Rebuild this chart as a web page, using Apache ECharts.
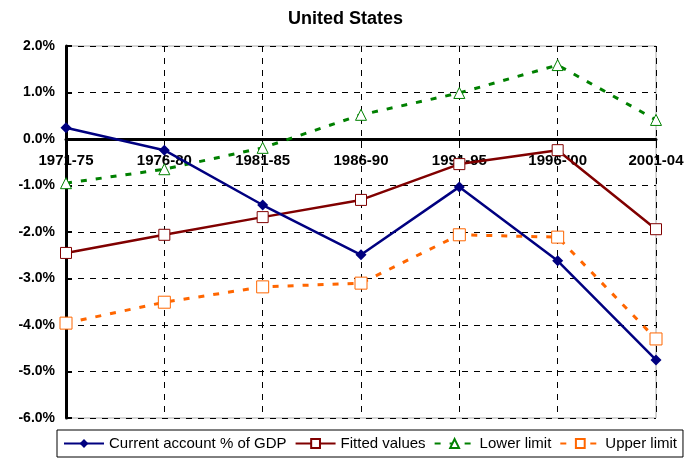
<!DOCTYPE html>
<html>
<head>
<meta charset="utf-8">
<script src="https://cdn.jsdelivr.net/npm/echarts@6/dist/echarts.min.js"></script>
<style>
  html, body { margin: 0; padding: 0; background: #ffffff; }
  #chart { width: 691px; height: 461px; }
</style>
</head>
<body>
<div id="chart"></div>
<script>
// periods on the x axis
var periods = ['1971-75', '1976-80', '1981-85', '1986-90', '1991-95', '1996-\'00', '2001-04'];
// values in % of GDP
var currentAccount = [0.24, -0.24, -1.42, -2.49, -1.03, -2.62, -4.75];
var fittedValues = [-2.45, -2.06, -1.68, -1.31, -0.54, -0.24, -1.94];
var lowerLimit = [-0.95, -0.65, -0.19, 0.52, 0.99, 1.59, 0.41];
var upperLimit = [-3.96, -3.51, -3.18, -3.10, -2.06, -2.11, -4.30];

var font = 'Liberation Sans, Arial, sans-serif';
var chart = echarts.init(document.getElementById('chart'));

var option = {
  animation: false,
  backgroundColor: '#ffffff',
  textStyle: { fontFamily: font },
  title: {
    text: 'United States',
    left: 'center',
    top: 5,
    textStyle: { fontSize: 18, fontWeight: 'bold', color: '#000', fontFamily: font }
  },
  legend: {
    bottom: 4,
    left: 57,
    itemGap: 8,
    itemWidth: 40,
    itemHeight: 11,
    borderColor: '#000',
    borderWidth: 1,
    padding: [6, 6],
    textStyle: { fontSize: 15, color: '#000', fontFamily: font },
    data: ['Current account % of GDP', 'Fitted values', 'Lower limit', 'Upper limit']
  },
  grid: {
    left: 66,
    right: 35,
    top: 46,
    bottom: 43,
    outerBoundsMode: 'none',
    show: true,
    borderColor: '#aaaaaa',
    borderWidth: 1
  },
  xAxis: {
    type: 'category',
    data: periods,
    boundaryGap: false,
    // axis drawn at 0% (bottom edge is -6%, 279 px below)
    offset: -279,
    axisLine: { onZero: false, lineStyle: { color: '#000', width: 3 } },
    axisTick: { show: true, length: 5, lineStyle: { color: '#000', width: 1 } },
    axisLabel: { fontSize: 15, fontWeight: 'bold', color: '#000', margin: 14, fontFamily: font },
    splitLine: { show: true, lineStyle: { color: '#000', type: [6, 6], width: 1 } }
  },
  yAxis: {
    type: 'value',
    min: -6,
    max: 2,
    interval: 1,
    axisLine: { show: true, onZero: false, lineStyle: { color: '#000', width: 3 } },
    axisTick: { show: true, inside: true, length: 6, lineStyle: { color: '#000', width: 2 } },
    axisLabel: {
      fontSize: 14, fontWeight: 'bold', color: '#000', margin: 11, fontFamily: font,
      formatter: function (v) { return v.toFixed(1) + '%'; }
    },
    splitLine: { show: true, lineStyle: { color: '#000', type: [6, 6], width: 1 } }
  },
  series: [
    {
      name: 'Current account % of GDP',
      type: 'line',
      data: currentAccount,
      symbol: 'diamond',
      symbolSize: 11,
      color: '#000080',
      lineStyle: { color: '#000080', width: 2.5 },
      itemStyle: { color: '#000080' },
      z: 5
    },
    {
      name: 'Fitted values',
      type: 'line',
      data: fittedValues,
      symbol: 'rect',
      symbolSize: 11,
      color: '#800000',
      lineStyle: { color: '#800000', width: 2.5 },
      itemStyle: { color: '#ffffff', borderColor: '#800000', borderWidth: 1 },
      z: 4
    },
    {
      name: 'Lower limit',
      type: 'line',
      data: lowerLimit,
      symbol: 'triangle',
      symbolSize: 11,
      color: '#008000',
      lineStyle: { color: '#008000', width: 3, type: [6, 9] },
      itemStyle: { color: '#ffffff', borderColor: '#008000', borderWidth: 1 },
      z: 3
    },
    {
      name: 'Upper limit',
      type: 'line',
      data: upperLimit,
      symbol: 'rect',
      symbolSize: 12,
      color: '#ff6600',
      lineStyle: { color: '#ff6600', width: 3, type: [6, 9] },
      itemStyle: { color: '#ffffff', borderColor: '#ff6600', borderWidth: 1 },
      z: 3
    }
  ]
};

chart.setOption(option);
</script>
</body>
</html>
